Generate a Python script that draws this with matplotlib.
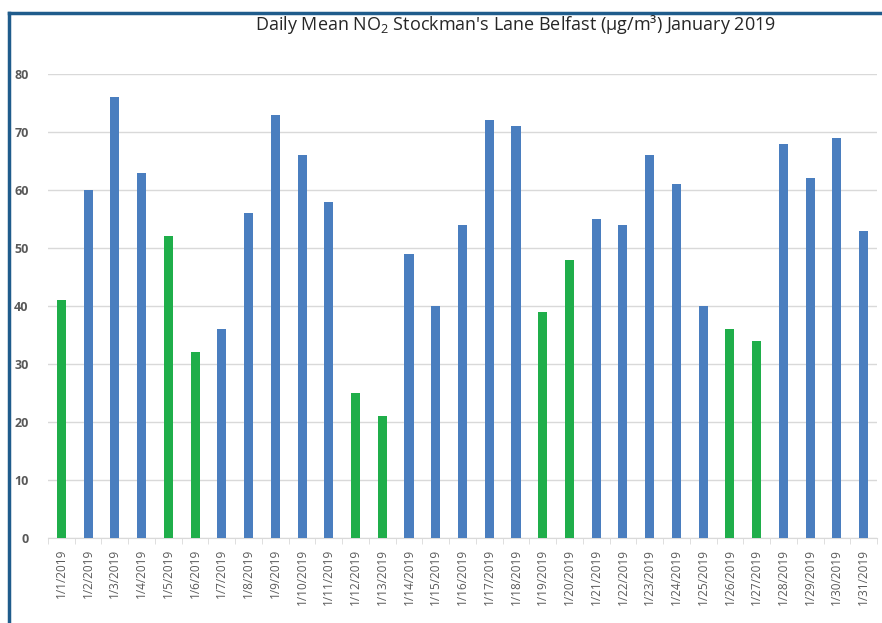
import numpy as np
import matplotlib
matplotlib.use("Agg")
import matplotlib.pyplot as plt
from matplotlib.lines import Line2D

# daily mean NO2, January 2019
days = ["1/%d/2019" % d for d in range(1, 32)]
values = [41, 60, 76, 63, 52, 32, 36, 56, 73, 66, 58, 25, 21, 49, 40, 54,
          72, 71, 39, 48, 55, 54, 66, 61, 40, 36, 34, 68, 62, 69, 53]
# weekends / holiday shown in green
green_days = [1, 5, 6, 12, 13, 19, 20, 26, 27]

blue = "#4a7ebf"
green = "#1fae4a"
colors = [green if (i + 1) in green_days else blue for i in range(len(days))]

plt.rcParams['font.family'] = ['Open Sans', 'DejaVu Sans']

fig = plt.figure(figsize=(8.82, 6.23), dpi=100)
ax = fig.add_axes([48/882, 1 - 538/623, (877 - 48)/882, (538 - 74)/623])

x = np.arange(len(days))
ax.bar(x, values, width=0.34, color=colors, zorder=3)

ax.set_xlim(-0.5, len(days) - 0.5)
ax.set_ylim(0, 80)
ax.set_yticks(range(0, 81, 10))
ax.grid(axis='y', color='#d9d9d9', linewidth=1, zorder=0)

ax.set_xticks(x)
ax.set_xticklabels(days, rotation=90, fontsize=8.5, color='#595959')
ax.set_xticks(np.arange(-0.5, len(days), 1), minor=True)
ax.tick_params(axis='x', which='major', length=0, pad=8)
ax.tick_params(axis='x', which='minor', length=4, color='#d9d9d9')
ax.tick_params(axis='y', length=0, labelsize=9, labelcolor='#595959', pad=14)
for lbl in ax.get_yticklabels():
    lbl.set_fontweight('bold')

for s in ['top', 'right', 'left']:
    ax.spines[s].set_visible(False)
ax.spines['bottom'].set_color('#d9d9d9')

fig.text(0.584, 1 - 25/623, r"Daily Mean NO$_\mathregular{2}$ Stockman's Lane Belfast (µg/m³) January 2019",
         ha='center', va='center', fontsize=13, color='#262626')

# dark blue frame on left and top
frame = '#1f5c8c'
fig.add_artist(Line2D([9/882, 9/882], [0, 1 - 13/623], color=frame, lw=2.5))
fig.add_artist(Line2D([9/882, 1], [1 - 13/623, 1 - 13/623], color=frame, lw=2.5))

fig.savefig("out.png", dpi=100)
